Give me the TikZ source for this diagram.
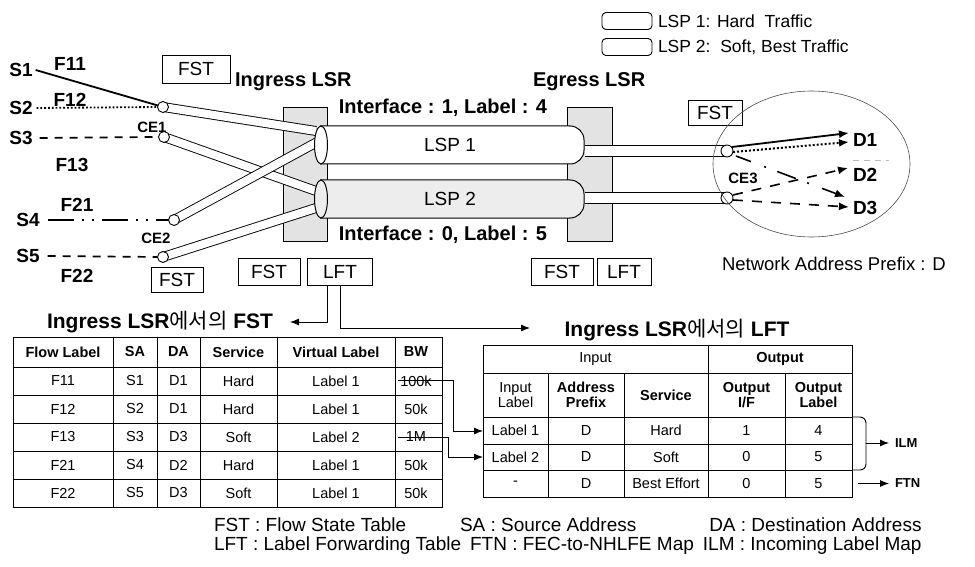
\documentclass[tikz,border=0pt]{standalone}
\usepackage{fontspec}
\setmainfont{Liberation Sans}
\newfontfamily\krfont{Noto Sans CJK KR}
\usetikzlibrary{arrows.meta,shapes.geometric}
\begin{document}
\begin{tikzpicture}[x=1pt,y=-1pt,
  every node/.style={inner sep=0pt, outer sep=0pt},
  big/.style={font=\fontsize{19}{21}\selectfont\bfseries},
  ifl/.style={font=\fontsize{20}{22}\selectfont\bfseries},
  mid/.style={font=\fontsize{15}{17}\selectfont\bfseries},
  tag/.style={draw, line width=0.8pt, font=\fontsize{19}{21}\selectfont, minimum height=27pt},
  tube/.style={line width=0.9pt, double=white, double distance=8pt},
  stube/.style={line width=0.9pt, double=white, double distance=10pt},
  endc/.style={draw, fill=white, line width=0.9pt, circle, minimum size=11pt},
  lsrbox/.style={draw, line width=0.8pt, fill=gray!22},
  tb/.style={font=\fontsize{14.5}{15.5}\selectfont, align=center},
  tbh/.style={font=\fontsize{14.5}{15.5}\selectfont\bfseries, align=center},
  leg/.style={font=\fontsize{19}{21}\selectfont, anchor=west},
  arr/.style={-{Latex[length=9pt,width=7pt]}, line width=0.9pt},
  darr/.style={-{Latex[length=10pt,width=8pt]}},
]
\useasboundingbox (0,0) rectangle (975,567);

% ---------- legend top ----------
\node[draw, line width=0.9pt, rounded corners=4pt, minimum width=50pt, minimum height=17pt] (lg1) at (627,21) {};
\node[draw, line width=0.9pt, rounded corners=4pt, minimum width=50pt, minimum height=17pt] (lg2) at (627,47) {};
\node[font=\fontsize{17.5}{19}\selectfont, anchor=west] (lgt1) at (658,21) {LSP 1: Hard\ \ Traffic};
\node[font=\fontsize{17.5}{19}\selectfont, anchor=west] (lgt2) at (658,47) {LSP 2:\ \ Soft, Best Traffic};

% ---------- LSR boxes ----------
\node[lsrbox, minimum width=44pt, minimum height=134pt] (ingbox) at (305,174) {};
\node[lsrbox, minimum width=45pt, minimum height=134pt] (egbox) at (590,174) {};
\node[ifl, anchor=west] (ingress) at (235,82) {Ingress LSR};
\node[ifl, anchor=west] (egress) at (533,82) {Egress LSR};
\node[ifl] (if1) at (443,108) {Interface : 1, Label : 4};
\node[ifl] (if0) at (443,235) {Interface : 0, Label : 5};

% ---------- left sources ----------
\node[big] (s1) at (21,70) {S1};
\node[big] (s2) at (21,108) {S2};
\node[big] (s3) at (21,138) {S3};
\node[big] (s4) at (28,220) {S4};
\node[big] (s5) at (28,256) {S5};
\node[big] (f11) at (70,64) {F11};
\node[big] (f12) at (70,100) {F12};
\node[big] (f13) at (72,165) {F13};
\node[big] (f21) at (77,205) {F21};
\node[big] (f22) at (77,276) {F22};

\coordinate (c1) at (163,107);
\coordinate (c2) at (164,137);
\coordinate (c3) at (174,220);
\coordinate (c4) at (163,257);
\coordinate (i1) at (316,131);
\coordinate (i2) at (316,191);
\coordinate (i3) at (319,141);
\coordinate (i4) at (316,208);

% right small tubes (under big tubes)
\coordinate (r1) at (585,151);
\coordinate (r2) at (585,198);
\coordinate (ce3a) at (727,151);
\coordinate (ce3b) at (727,198);
\draw[stube] (r1) -- (ce3a);
\draw[stube] (r2) -- (ce3b);

% left tubes
\draw[tube] (c1) -- (i1);
\draw[tube] (c2) -- (i2);
\draw[tube] (c4) -- (i4);
\draw[tube] (c3) -- (i3);
\node[endc] (e1) at (c1) {};
\node[endc] (e2) at (c2) {};
\node[endc] (e3) at (c3) {};
\node[endc] (e4) at (c4) {};
\node[endc, minimum size=12pt] (e5) at (ce3a) {};
\node[endc, minimum size=12pt] (e6) at (ce3b) {};

% big LSP tubes
\draw[line width=1pt, fill=white, rounded corners=14pt] (320,126) -- (584,126) -- (584,164) -- (320,164);
\draw[line width=1pt, fill=gray!14, rounded corners=14pt] (320,180) -- (584,180) -- (584,218) -- (320,218);
\node[draw, line width=1pt, fill=white, ellipse, minimum width=13pt, minimum height=38pt] (cap1) at (321,145) {};
\node[draw, line width=1pt, fill=gray!14, ellipse, minimum width=13pt, minimum height=38pt] (cap2) at (321,199) {};
\node[font=\fontsize{19}{21}\selectfont] (lsp1) at (450,145) {LSP 1};
\node[font=\fontsize{19}{21}\selectfont] (lsp2) at (450,199) {LSP 2};

% source lines
\draw[line width=1.8pt] ([xshift=3pt]s1.east) -- (e1);
\draw[line width=1.8pt, dotted] ([xshift=4pt]s2.east) -- (e1.west);
\draw[line width=1.7pt, dash pattern=on 8pt off 7pt] ([xshift=7pt]s3.east) -- ([xshift=-6pt]e2.west);
\draw[line width=1.7pt, dash pattern=on 26pt off 8pt on 2pt off 8pt on 2pt off 8pt] ([xshift=8pt]s4.east) -- (e3.west);
\draw[line width=1.7pt, dash pattern=on 8pt off 7pt] ([xshift=8pt]s5.east) -- (e4.west);
\node[mid] (ce1) at (152,127) {CE1};
\node[mid] (ce2) at (156,238) {CE2};

% FST / LFT tags
\node[tag, minimum width=68pt, minimum height=28pt] (fst0) at (196,69) {FST};
\node[tag, minimum width=52pt, minimum height=25pt] (fst1) at (177,280) {FST};
\node[tag, minimum width=62pt] (ifst) at (269,271.5) {FST};
\node[tag, minimum width=65pt] (ilft) at (340,271.5) {LFT};
\node[tag, minimum width=62pt] (efst) at (562,271.5) {FST};
\node[tag, minimum width=54pt] (elft) at (624,271.5) {LFT};
\node[tag, minimum width=54pt, minimum height=25pt] (rfst) at (715,112.5) {FST};

% ---------- egress network ----------
\node[draw, ellipse, line width=0.6pt, draw=gray!60!black, minimum width=197pt, minimum height=146pt] (net) at (811.5,164) {};
\node[mid] (ce3) at (743,178) {CE3};
\node[big, anchor=west] (d1) at (853,140) {D1};
\node[big, anchor=west] (d2) at (853,175) {D2};
\node[big, anchor=west] (d3) at (853,208) {D3};
\node[font=\fontsize{18.5}{20}\selectfont, anchor=west] (nap) at (722,264) {Network Address Prefix : D};
\coordinate (o1) at (732,147);
\coordinate (o2) at (733,152);
\coordinate (o3) at (736,156);
\coordinate (o4) at (733,195);
\coordinate (o5) at (733,200);
\coordinate (t1) at (849,133);
\coordinate (t2) at (849,142);
\coordinate (t4) at (848,168);
\coordinate (t3) at (845,197);
\coordinate (t5) at (849,207);
\draw[line width=1.8pt, darr] (o1) -- (t1);
\draw[line width=2pt, dotted, darr] (o2) -- (t2);
\draw[line width=1.6pt, dash pattern=on 16pt off 14pt on 2pt off 12pt on 20pt off 12pt on 2pt off 14pt, darr] (o3) -- (t3);
\draw[line width=1.6pt, dash pattern=on 10pt off 9pt, darr] (o4) -- (t4);
\draw[line width=1.6pt, dash pattern=on 10pt off 9pt, darr] (o5) -- (t5);
\draw[gray!55, line width=0.7pt, dash pattern=on 6pt off 5pt] (853,160) -- (889,160);

% ---------- titles and arrows ----------
\node[font=\fontsize{21}{23}\selectfont] (fsttitle) at (160,322) {\textbf{Ingress LSR}{\krfont 에서의} \textbf{FST}};
\node[font=\fontsize{21}{23}\selectfont] (lfttitle) at (677,330) {\textbf{Ingress LSR}{\krfont 에서의} \textbf{LFT}};
\coordinate (fstip) at (290,322);
\coordinate (lftip) at (530,328);
\draw[arr] ([xshift=-13pt]ilft.south) |- (fstip);
\draw[arr] (ilft.south) |- (lftip);

% ---------- FST table ----------
\draw[line width=0.9pt] (13,337) rectangle (442,507);
\foreach \yy in {367,395,423,451,479} \draw[line width=0.8pt] (13,\yy) -- (442,\yy);
\foreach \xx in {113,157,200,277,395} \draw[line width=0.8pt] (\xx,337) -- (\xx,507);
\foreach \t/\xx [count=\i] in {Flow Label/63,SA/135,DA/178.5,Service/238.5,Virtual Label/336,BW/416}
  \node[tbh] (fh\i) at (\xx,352) {\t};
\foreach \a/\b/\c/\d/\e/\f/\yy [count=\r] in {F11/S1/D1/Hard/Label 1/100k/381,F12/S2/D1/Hard/Label 1/50k/409,F13/S3/D3/Soft/Label 2/1M/437,F21/S4/D2/Hard/Label 1/50k/465,F22/S5/D3/Soft/Label 1/50k/493}{
  \node[tb] (fa\r) at (63,\yy) {\a};
  \node[tb] (fsa\r) at (135,\yy) {\b};
  \node[tb] (fda\r) at (178.5,\yy) {\c};
  \node[tb] (fsv\r) at (238.5,\yy) {\d};
  \node[tb] (fvl\r) at (336,\yy) {\e};
  \node[tb] (fbw\r) at (416,\yy) {\f};
}

% ---------- LFT table ----------
\draw[line width=0.9pt] (483,345) rectangle (852,497);
\foreach \yy in {373,417,444,470} \draw[line width=0.8pt] (483,\yy) -- (852,\yy);
\draw[line width=0.8pt] (708,345) -- (708,497);
\foreach \xx in {548,624,785} \draw[line width=0.8pt] (\xx,373) -- (\xx,497);
\node[tb] (lin) at (595.5,359) {Input};
\node[tbh] (lout) at (780,359) {Output};
\node[tb] (lh1) at (515.5,395) {Input\\Label};
\node[tbh] (lh2) at (586,395) {Address\\Prefix};
\node[tbh] (lh3) at (666,395) {Service};
\node[tbh] (lh4) at (746.5,395) {Output\\I/F};
\node[tbh] (lh5) at (818.5,395) {Output\\Label};
\foreach \a/\b/\c/\d/\e/\yy [count=\r] in {Label 1/D/Hard/1/4/430.5,Label 2/D/Soft/0/5/457,-/D/Best Effort/0/5/483.5}{
  \node[tb] (la\r) at (515.5,\yy) {\a};
  \node[tb] (lb\r) at (586,\yy) {\b};
  \node[tb] (lc\r) at (666,\yy) {\c};
  \node[tb] (ld\r) at (746.5,\yy) {\d};
  \node[tb] (le\r) at (818.5,\yy) {\e};
}

% FST -> LFT connectors (strike through 100k and 1M)
\coordinate (s100) at (398,380);
\coordinate (s1m) at (398,437);
\coordinate (k1) at (453,380);
\coordinate (k2) at (448,437);
\coordinate (in1) at (483,431);
\coordinate (in2) at (483,457);
\draw[arr] (s100) -- (k1) |- (in1);
\draw[arr] (s1m) -- (k2) |- (in2);

% ILM / FTN
\draw[line width=0.9pt, rounded corners=6pt] (852,417) -- (866,417) -- (866,470) -- (852,470);
\coordinate (b1) at (866,443);
\coordinate (b2) at (858,483.5);
\node[font=\fontsize{13}{15}\selectfont\bfseries, anchor=west] (ilm) at (895,443) {ILM};
\node[font=\fontsize{13}{15}\selectfont\bfseries, anchor=west] (ftn) at (895,483.5) {FTN};
\draw[arr] (b1) -- ([xshift=-6pt]ilm.west);
\draw[arr] (b2) -- ([xshift=-6pt]ftn.west);

% ---------- bottom legend ----------
\node[leg] (lgd4) at (214,546) {LFT : Label Forwarding Table};
\node[leg] (lgd5) at ([xshift=9pt]lgd4.east) {FTN : FEC-to-NHLFE Map};
\node[leg] (lgd6) at ([xshift=9pt]lgd5.east) {ILM : Incoming Label Map};
\node[leg] (lgd1) at (214,525) {FST : Flow State Table};
\node[leg] (lgd2) at (460,525) {SA : Source Address};
\node[leg, anchor=east] (lgd3) at (lgd6.east |- lgd2.east) {DA : Destination Address};
\end{tikzpicture}
\end{document}
